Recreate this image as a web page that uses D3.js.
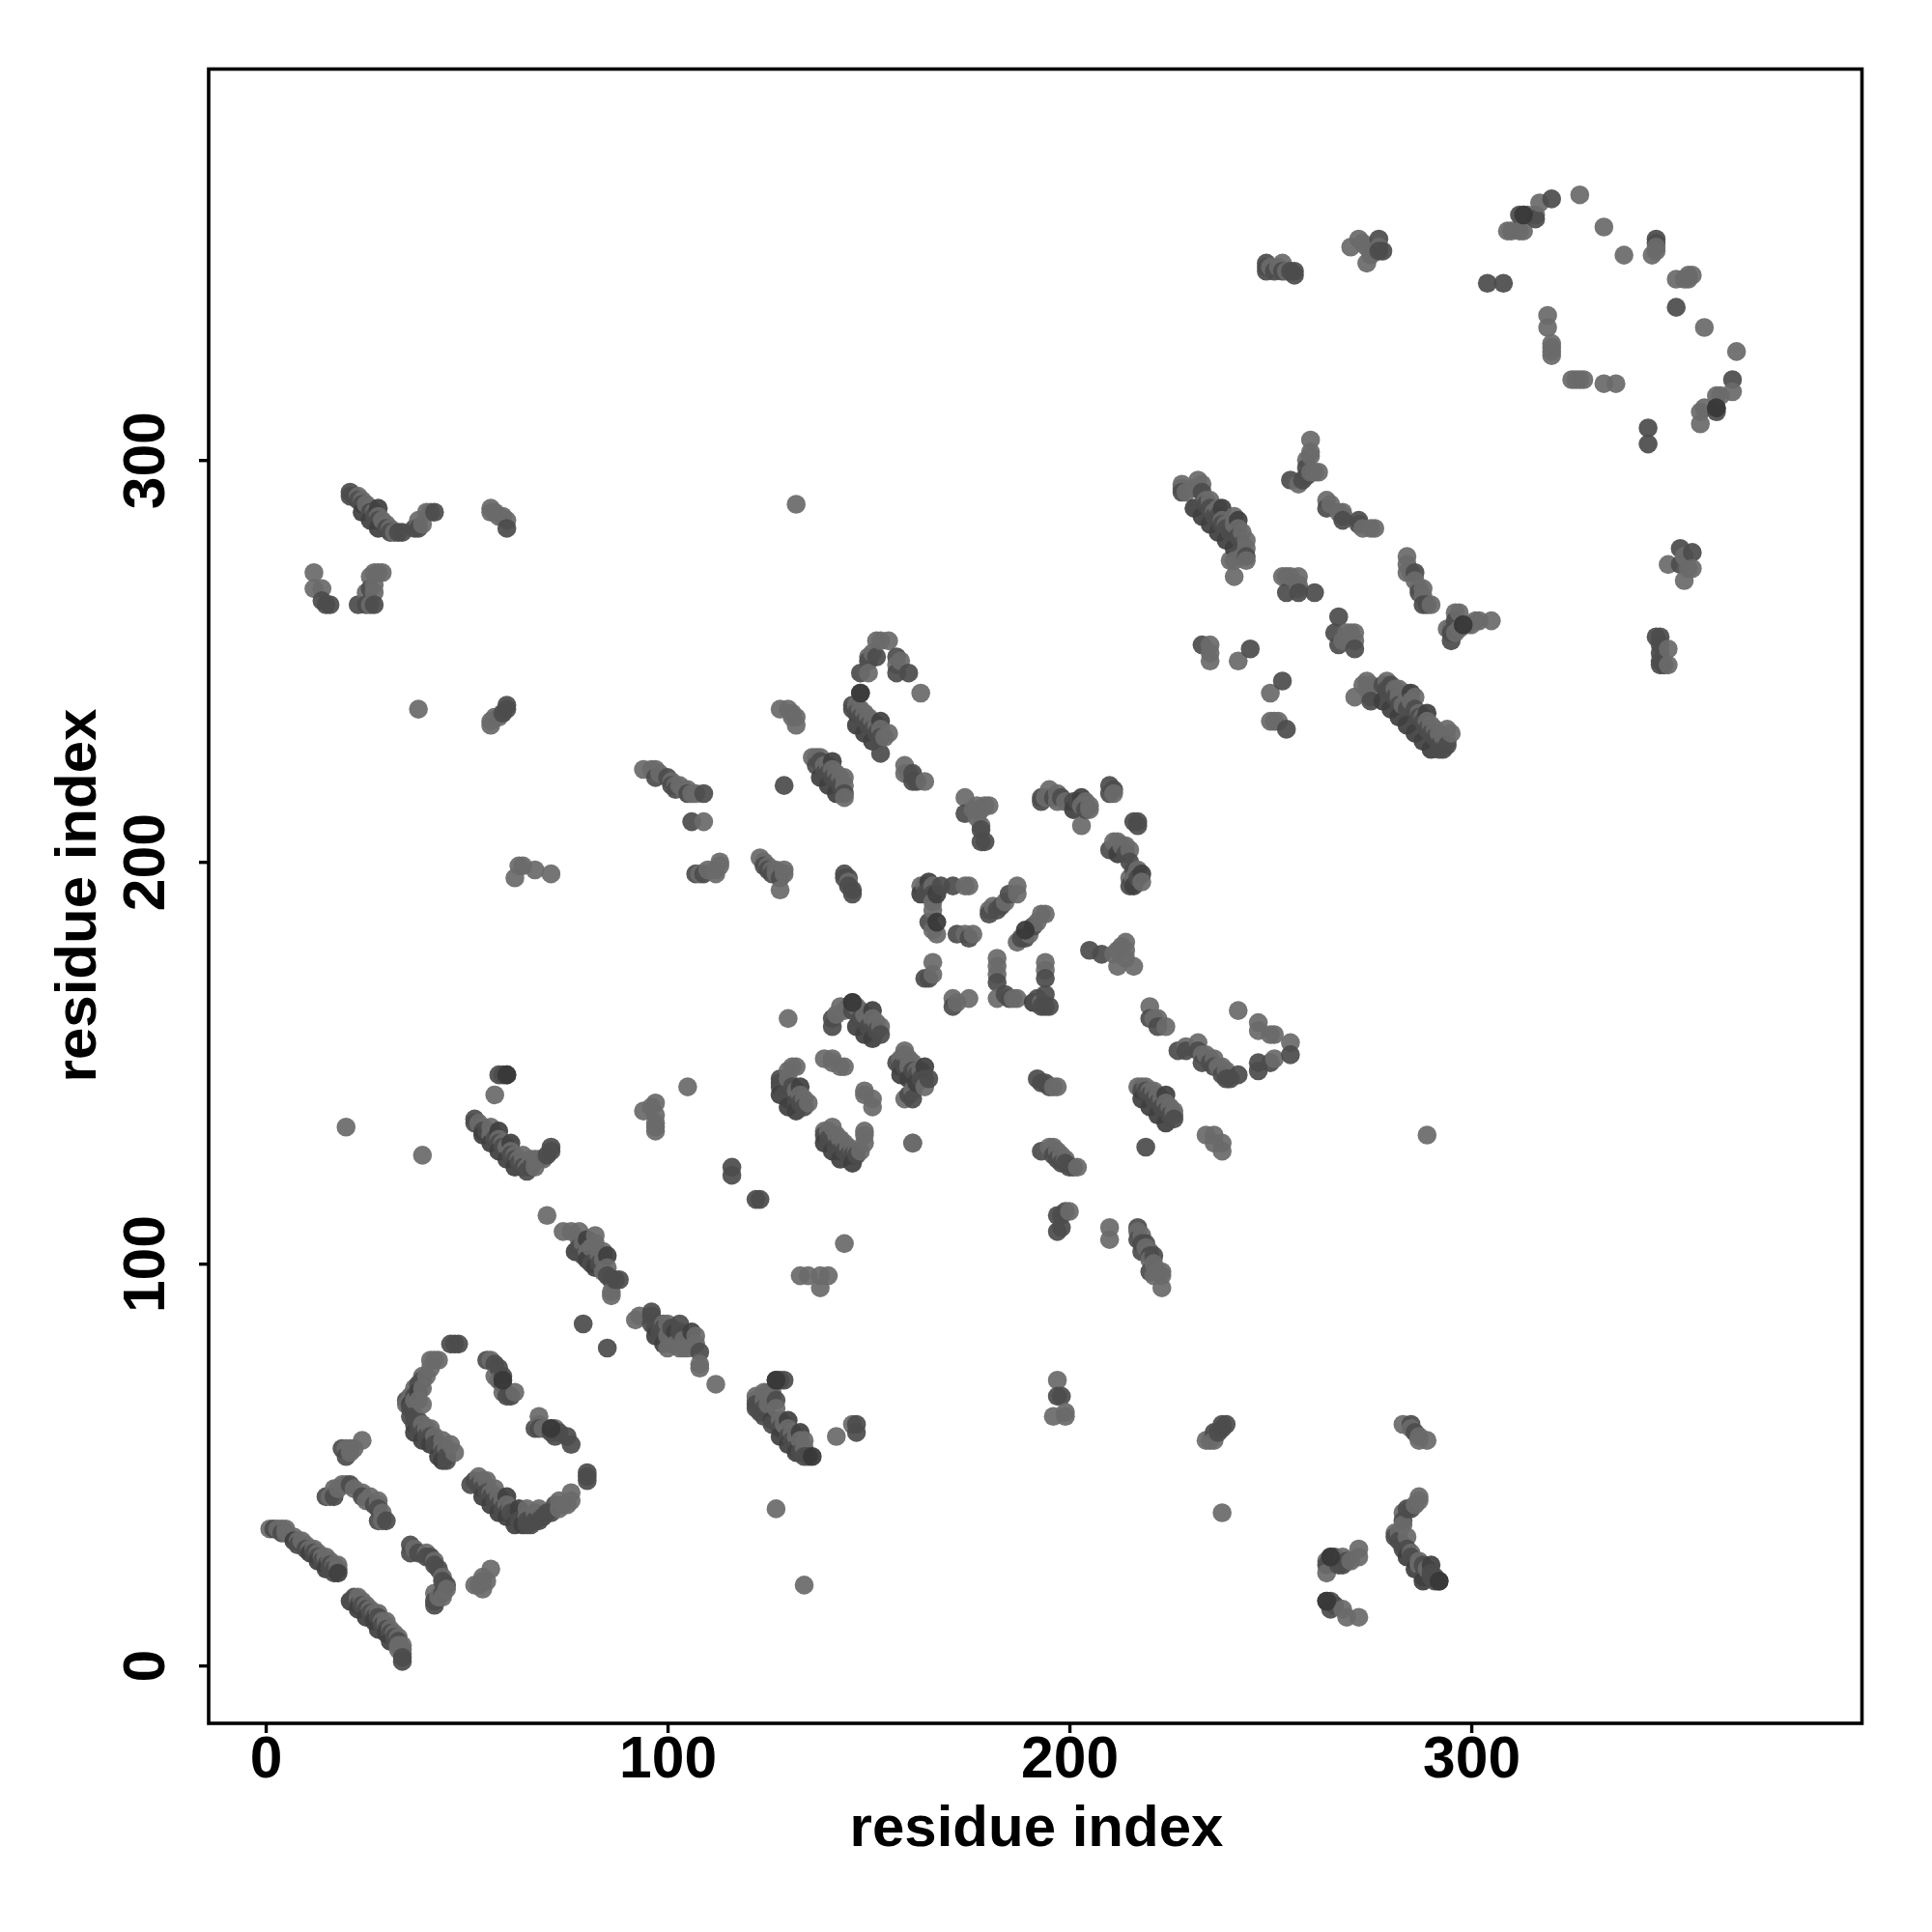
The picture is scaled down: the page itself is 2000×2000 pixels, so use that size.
<!DOCTYPE html>
<html><head><meta charset="utf-8">
<script src="https://cdn.jsdelivr.net/npm/d3@7/dist/d3.min.js"></script>
<style>html,body{margin:0;background:#fff}svg{display:block}text{font-family:"Liberation Sans",Arial,sans-serif;font-weight:bold;fill:#000}</style>
</head><body><div id="c"></div>
<script>
const tickValues=[0,100,200,300];
const xAxisTitle="residue index", yAxisTitle="residue index";
// residue-index contact pairs [i,j], grouped by contact strength
const shoulderContacts=[
[7,31],[11,28],[13,26],[15,24],[18,23],[21,16],[23,14],[25,12],[27,11],[28,9],[30,8],[31,6],
[37,58],[39,56],[41,55],[43,52],[44,51],[36,65],[38,68],
[54,42],[56,40],[58,38],[60,37],[62,35],[64,35],[60,42],[63,39],
[126,61],[128,57],[130,55],[132,53],[130,61],[133,58],
[54,132],[56,130],[58,128],[60,126],[62,124],[58,133],[61,130],
[284,27],[286,24],[288,21],[290,25],
[278,240],[280,238],[282,236],[284,234],[286,232],[288,230],[290,228],[285,242],[289,237],
[231,288],[233,286],[235,284],[237,282],[239,280],[241,278],[238,288],[242,285],
[24,287],[26,285],[28,283],[28,288],
[138,221],[140,219],[142,217],[141,225],
[147,234],[149,232],[151,230],[153,235],
[218,141],[220,139],[222,137],[224,135],[224,142],
[128,142],[130,139],[132,138],[133,144],
[139,130],[141,128],[143,126],[146,125],
[147,159],[149,157],[151,156],[151,163],
[158,147],[160,146],[162,145],[164,149],
[97,82],[99,80],[102,83],[106,83],
[80,106],[77,103],[80,101],[82,99],[85,102],
[201,213],[203,216],[212,202],[216,194],[218,197],
[163,192],[165,195],[167,192],[191,165]
];
const mediumContacts=[
[2,34],[4,33],[8,30],[10,29],[12,28],[13,27],[14,26],[15,25],[16,24],[17,23],[16,25],[17,24],
[22,17],[22,16],[23,15],[24,15],[25,14],[26,13],[27,12],[28,12],[29,10],[30,9],[31,8],[32,7],[33,6],[34,2],[34,1],
[15,42],[17,42],[21,45],[24,42],[27,40],[28,39],[28,36],[30,36],[19,54],[20,52],
[35,66],[36,64],[36,62],[37,62],[37,60],[38,61],[38,59],[39,58],[40,57],[41,57],[42,55],[43,55],[44,53],[45,52],[45,51],[37,67],[38,70],[39,71],[46,80],[47,80],[48,80],
[36,30],[36,28],[38,28],[40,27],[41,27],[42,25],[43,24],[44,21],[45,20],[44,18],[42,16],[42,15],
[51,45],[52,46],[53,45],[54,44],[55,43],[56,42],[57,41],[58,40],[59,39],[60,38],[61,38],[62,37],[63,36],[64,36],[65,36],[65,35],[66,35],[67,36],[68,36],[69,37],[70,38],[71,38],[72,40],[80,46],[80,47],[80,48],
[55,76],[57,75],[58,74],[59,72],[59,70],[60,67],[61,67],[67,59],[68,59],[71,58],[72,57],[73,58],[75,57],[76,55],
[79,85],[85,79],[96,88],[96,87],[96,85],[97,84],[98,85],[98,83],[99,84],[101,84],[103,85],[103,83],[104,82],[108,78],
[122,65],[122,64],[123,63],[124,64],[124,62],[126,60],[127,71],[127,66],[128,71],[129,71],[128,59],[130,57],[131,56],[132,54],[133,53],[134,52],[135,52],[147,60],[147,58],
[192,146],[193,145],[194,145],[195,144],[193,128],[196,127],[197,126],[198,125],[199,125],[200,124],[201,124],
[218,143],[219,143],[220,142],[221,141],[222,140],[223,139],[224,138],[225,137],[226,136],[219,129],
[197,112],[198,112],[199,113],[198,109],[197,108],[217,109],[217,106],[218,105],[219,105],[218,103],[220,102],[221,102],[220,98],
[197,67],[198,67],[236,58],[237,58],[238,59],[238,60],[239,60],
[285,60],[286,58],[283,36],[284,39],[285,39],[281,32],[282,31],[283,30],[283,29],[284,29],[285,27],[286,26],[288,25],[288,22],[290,23],[290,22],[291,22],[292,21],[291,21],
[264,25],[265,27],[266,27],[267,25],[268,25],[269,26],[264,16],[265,16],[265,14],[266,15],
[148,247],[150,250],[152,251],[157,251],[157,247],[160,247],[146,239],[146,238],[147,237],[148,236],[149,235],[150,234],[151,233],[152,232],[153,231],[153,227],
[137,224],[138,225],[139,222],[140,222],[141,221],[142,220],[143,219],[144,217],[129,219],[97,221],[100,221],[101,219],[102,218],[105,217],[109,217],[106,210],[107,197],[109,197],[124,199],[125,198],[126,197],[128,196],
[144,197],[144,196],[145,196],[145,194],[146,193],[146,192],[161,222],[161,220],[162,220],[174,212],[178,208],[178,205],[179,205],
[193,215],[193,216],[196,216],[198,216],[201,215],[202,215],[204,213],[210,219],[210,217],[211,218],[216,210],[217,210],[217,209],[210,203],[214,202],[215,200],[216,198],[217,196],[215,194],
[164,192],[165,193],[166,192],[168,194],[171,194],[165,185],[172,182],[175,181],[185,192],[183,189],[182,188],[180,187],[191,184],[189,181],[188,181],
[205,178],[208,177],[165,171],[164,171],[182,170],[184,167],[185,166],[171,164],[194,171],[194,167],[192,166],[193,164],[194,164],[195,164],
[220,161],[222,159],[227,153],[229,153],[232,153],[233,150],[235,150],[236,149],[238,147],[239,146],[240,146],[242,147],[250,150],[247,150],[247,148],[255,152],
[128,146],[128,145],[128,144],[129,142],[130,141],[131,144],[132,140],[133,140],[134,139],[139,132],[140,131],[141,130],[142,129],[143,128],[144,128],[145,127],[146,127],[147,127],[161,141],[160,142],[157,150],[158,149],[159,149],[161,148],[162,147],[163,146],[164,146],[165,146],
[141,161],[141,159],[146,165],[146,163],[148,161],[150,159],[151,158],[152,158],[153,157],[116,124],[116,122],[122,116],[123,116],
[52,136],[52,135],[54,133],[55,133],[57,131],[58,130],[59,129],[61,127],[62,126],[63,125],[64,124],[65,123],[66,124],[70,127],[71,129],[71,128],[58,147],[59,147],[60,147],
[78,104],[79,102],[81,100],[83,100],[85,97],[86,96],[87,96],[88,96],[14,265],[15,264],[16,264],[23,264],[25,264],[27,264],[26,268],
[21,292],[21,291],[22,291],[23,290],[24,289],[26,287],[27,286],[28,285],[30,283],[31,282],[33,282],[34,282],[37,283],[38,283],[42,287],[60,283],[60,239],[60,238],[59,237],
[249,349],[249,348],[249,347],[251,347],[253,347],[255,347],[256,347],[256,346],[277,355],[277,352],[278,352],[304,344],[308,344],[312,361],[316,360],[320,365],[346,354],[346,355],[351,338],[365,320],[361,313],[361,312],[344,308],[344,304],
[255,295],[258,295],[259,296],[259,298],[264,288],[268,285],[272,284],[272,285],[228,292],[233,292],[234,289],[235,288],[236,286],[237,286],[238,284],[239,283],[240,282],[242,281],[243,279],[244,276],[254,267],[257,267],[261,267],
[267,261],[266,257],[267,254],[271,253],[286,272],[287,267],[288,264],[289,264],[295,255],[295,257],[296,260],[298,259],[233,254],[245,253],[253,245],[254,233],
[275,240],[278,244],[279,243],[280,244],[281,241],[282,239],[284,238],[286,238],[287,236],[288,235],[289,233],[290,232],[291,231],[292,229],[293,228],[292,228],[294,229],
[352,278],[355,277],[352,274],[346,256],[347,256],[347,254],[347,252],[347,250],[347,249],[348,249]
];
const lightContacts=[
[1,34],[3,34],[4,34],[5,34],[5,33],[7,32],[8,31],[9,31],[10,30],[11,29],[12,29],[13,28],[14,27],[15,27],[15,26],[16,26],[17,25],[18,24],[18,25],
[23,17],[23,16],[24,16],[25,15],[26,14],[27,13],[28,13],[29,11],[30,11],[30,10],[31,9],[32,8],[33,7],[33,5],[34,5],[34,4],[34,3],[33,4],
[16,42],[17,44],[18,44],[19,45],[20,45],[22,44],[24,43],[25,41],[26,42],[28,41],[28,40],[29,38],[29,36],[20,54],[21,54],[21,53],[22,54],[24,56],
[35,65],[36,67],[37,69],[37,66],[38,66],[39,72],[39,69],[39,65],[39,60],[40,72],[40,59],[41,76],[41,74],[41,59],[42,76],[42,57],[43,76],[44,56],[44,54],[45,54],[46,55],[47,53],
[37,29],[40,28],[42,26],[44,22],[45,19],[44,17],[43,17],[42,18],
[52,20],[53,20],[54,19],[54,21],[54,22],[56,24],[55,21],
[53,47],[54,46],[55,46],[56,43],[57,44],[58,42],[59,41],[60,40],[61,39],[65,39],[65,37],[67,38],[68,39],[73,39],[73,41],[74,40],[75,40],[76,41],[76,43],
[56,76],[57,72],[58,71],[59,68],[62,68],[68,62],[68,60],[69,59],[71,59],[72,59],
[92,86],[93,87],[99,85],[100,85],[100,82],[100,79],[101,80],[102,80],[103,79],[104,81],[104,79],[105,79],[107,82],[107,80],[108,75],[108,74],[112,70],
[122,67],[122,66],[124,68],[124,66],[125,68],[125,65],[126,68],[126,67],[127,64],[128,61],[129,60],[130,59],[131,58],[132,57],[133,56],[134,56],[134,54],[127,39],[134,20],[142,57],[146,60],
[133,97],[135,97],[138,97],[140,97],[138,94],
[196,144],[197,144],[195,129],[196,129],[197,128],[198,127],[199,126],[202,124],
[217,144],[218,144],[219,144],[220,143],[221,143],[222,142],[223,141],[224,140],[225,139],[226,138],[226,137],
[234,132],[236,132],[236,130],[238,130],[238,128],[289,132],[161,130],
[200,113],[210,109],[210,106],[217,108],[218,107],[219,104],[220,103],[220,101],[221,100],[222,98],[223,98],[223,97],[221,97],[223,94],
[197,71],[196,62],[199,62],[199,63],[234,56],[235,56],[236,56],[238,38],
[283,60],[285,59],[287,57],[287,56],[289,56],[287,42],[287,41],[286,40],[283,38],[283,35],[281,33],[282,33],[284,32],[285,28],[287,26],[287,25],[289,24],
[264,23],[264,26],[268,27],[270,26],[272,29],[272,27],[268,14],[269,12],[272,12],
[150,247],[150,251],[151,252],[152,255],[153,255],[155,255],[157,249],[158,250],[163,242],
[148,242],[147,239],[148,238],[149,237],[150,236],[151,235],[152,234],[153,233],[154,231],[155,232],
[128,238],[130,238],[131,236],[131,237],[132,236],[132,234],
[136,226],[137,226],[138,226],[139,224],[140,224],[141,223],[142,222],[143,221],[144,221],[144,219],[144,216],
[94,223],[96,223],[97,223],[98,222],[101,220],[102,219],[103,219],[104,218],[105,218],[106,217],[107,217],[109,210],
[108,197],[110,198],[112,197],[112,198],[113,200],[113,199],[123,201],[124,200],[125,199],[126,198],[127,198],[127,197],[129,198],[129,197],[128,193],
[145,195],[159,224],[159,222],[160,222],[164,220],[174,216],[176,213],[177,214],[178,213],[179,214],[180,214],[177,211],[178,209],
[194,216],[195,218],[197,217],[197,215],[199,215],[203,214],[204,215],[205,213],[205,214],[203,209],[211,217],[211,205],[212,205],[213,204],[214,204],[215,203],[216,196],[217,198],[218,195],[215,196],
[163,194],[164,194],[166,194],[174,194],[175,194],[166,190],[166,188],[166,183],[167,182],[174,182],[176,182],[187,194],[187,192],[184,190],[181,189],[180,188],
[194,187],[193,187],[192,185],[190,182],[187,180],[211,177],[212,178],[213,179],[214,180],[214,178],[212,174],[214,176],[216,174],
[166,175],[166,172],[182,176],[182,174],[182,172],[182,166],[186,166],[187,166],[171,166],[172,165],[175,166],[194,175],[194,173],[193,165],
[220,164],[221,161],[222,161],[224,159],[242,163],[229,154],[232,155],[233,152],[234,152],[235,151],[236,151],[237,149],[238,149],[239,148],
[247,160],[247,158],[250,157],[251,157],[255,155],[251,151],
[130,148],[130,146],[131,149],[132,149],[132,143],[133,142],[134,141],[135,140],[139,151],[141,151],[141,150],[143,149],[144,149],[149,143],[149,142],[151,141],[151,139],
[139,133],[140,133],[141,134],[142,132],[143,131],[144,130],[145,129],[146,128],[147,128],[148,128],[149,130],[149,132],[149,133],
[142,162],[143,164],[144,163],[145,164],[147,164],[148,163],[149,162],[150,161],[151,161],[152,160],[153,159],
[159,153],[158,151],[159,152],[160,151],[160,149],[161,150],[162,148],[163,148],[164,144],[161,143],[159,141],
[130,161],[105,144],[94,138],[96,139],[97,140],[97,137],[97,135],[97,134],[97,133],[161,130],[144,105],
[53,135],[54,134],[56,134],[56,132],[57,132],[58,131],[59,130],[60,129],[61,128],[62,127],[63,126],[64,127],[64,125],[65,124],[66,126],[67,126],[67,124],[68,126],[69,126],[57,142],
[20,134],[39,127],[70,112],[74,108],[76,108],[78,108],[78,106],[79,105],[80,103],[81,104],[82,107],[82,105],[83,102],[84,103],[84,101],[84,98],[85,99],[86,93],[86,92],
[12,272],[12,268],[14,268],[26,264],[25,267],[27,267],[27,269],[26,271],[27,272],[28,272],[29,272],
[23,291],[24,290],[25,289],[26,288],[27,287],[28,286],[29,285],[30,284],[31,283],[32,282],[38,285],[39,284],[40,287],[41,287],
[56,288],[56,287],[57,287],[58,286],[59,286],[60,285],[38,238],[56,234],[56,235],[57,236],[58,236],[62,196],[63,199],[64,199],[67,198],[71,197],[132,289],
[250,348],[252,348],[253,349],[254,347],[270,353],[272,355],[273,354],[274,353],[274,349],[275,351],[277,353],
[309,357],[310,357],[312,357],[313,357],[313,361],[314,361],[316,361],[317,364],[327,366],[333,358],[338,351],[345,351],[346,352],[346,353],
[351,345],[353,345],[354,346],[354,345],[355,346],[358,333],[366,327],[365,317],[362,316],[361,316],[358,313],[357,312],[357,309],
[319,336],[319,333],[320,329],[320,328],[320,327],[320,326],[325,320],[326,320],[327,320],[328,320],[333,319],[336,319],
[257,294],[259,300],[260,302],[260,301],[260,305],[260,297],[261,297],[262,297],
[264,290],[265,289],[267,287],[268,287],[268,286],[273,283],[275,283],[276,283],
[228,294],[228,293],[229,292],[231,293],[232,295],[233,294],[234,290],[235,290],[236,287],[237,288],[238,285],[239,284],[241,286],[241,284],[242,283],[243,282],[244,280],[244,278],[244,275],[243,276],[240,275],[241,275],[241,271],
[253,271],[254,271],[255,271],[257,271],[257,269],[257,268],[268,255],[269,257],[270,257],[271,257],[271,255],
[284,276],[284,274],[284,272],[285,272],[286,270],[287,268],[288,268],[288,266],[290,264],[295,258],[296,262],[297,262],[296,257],[297,258],[299,259],[300,259],[301,260],[302,260],[305,260],[294,258],
[235,254],[235,252],[235,250],[242,250],[250,242],[250,235],[251,235],[252,235],
[271,241],[273,244],[274,245],[274,243],[275,244],[275,241],[279,245],[281,243],[282,243],[282,241],[283,239],[284,242],[285,240],[286,241],[287,237],[288,236],[289,235],[290,234],[291,233],[292,232],[293,231],[294,233],[294,230],[295,232],
[353,276],[349,274],[354,273],[355,273],[353,270],[349,253],[349,249]
];
const strongContacts=[
[167,185],[136,52],[59,71],[71,59],[313,361],[361,313],[298,259],[265,27],[264,16],[292,21],[189,183],[146,165],[60,147],[148,242],[127,71]
];
const W=2000,H=2000;
const x=d3.scaleLinear().domain([-14.2,397.1]).range([216,1927]);
const y=d3.scaleLinear().domain([-14.4,397.3]).range([1784,71.5]);
const shade=d3.scaleOrdinal().domain(["shoulder","medium","light","strong"]).range(["#3f3f3f","#4c4c4c","#6a6a6a","#383838"]);
const tag=(arr,k)=>arr.map(d=>({i:d[0],j:d[1],k}));
const all=[...tag(shoulderContacts,"shoulder"),...tag(mediumContacts,"medium"),...tag(lightContacts,"light")]
  .sort((a,b)=>d3.ascending(a.i,b.i)||d3.descending(a.j,b.j));
const svg=d3.select("#c").append("svg").attr("width",W).attr("height",H).attr("viewBox",`0 0 ${W} ${H}`);
svg.append("g").selectAll("circle").data([...all,...tag(strongContacts,"strong")]).join("circle")
  .attr("cx",d=>x(d.i)).attr("cy",d=>y(d.j)).attr("r",9.8).attr("fill",d=>shade(d.k)).attr("fill-opacity",0.93);
svg.append("rect").attr("x",216).attr("y",71.5).attr("width",1711.5).attr("height",1712.5).attr("fill","none").attr("stroke","#000").attr("stroke-width",3.6);
const gx=svg.append("g").attr("transform","translate(0,1784)").call(d3.axisBottom(x).tickValues(tickValues).tickSize(10).tickPadding(10).tickFormat(d3.format("d")));
const gy=svg.append("g").attr("transform","translate(216,0)").call(d3.axisLeft(y).tickValues(tickValues).tickSize(10).tickFormat(d3.format("d")));
[gx,gy].forEach(g=>{g.select(".domain").remove();g.selectAll("line").attr("stroke","#000").attr("stroke-width",3.4);});
gx.selectAll("text").attr("font-size",60.5).attr("dy",null).attr("y",56).style("font-family","Liberation Sans").style("font-weight","bold").attr("fill","#000");
gy.selectAll("text").attr("font-size",60.5).attr("dy",null).attr("text-anchor","middle").attr("transform","translate(-46,0) rotate(-90)").attr("x",0).attr("y",0).style("font-family","Liberation Sans").style("font-weight","bold").attr("fill","#000");
svg.append("text").attr("x",1073).attr("y",1911).attr("text-anchor","middle").attr("font-size",60).text(xAxisTitle);
svg.append("text").attr("transform","translate(99,927) rotate(-90)").attr("text-anchor","middle").attr("font-size",60).text(yAxisTitle);
</script></body></html>
